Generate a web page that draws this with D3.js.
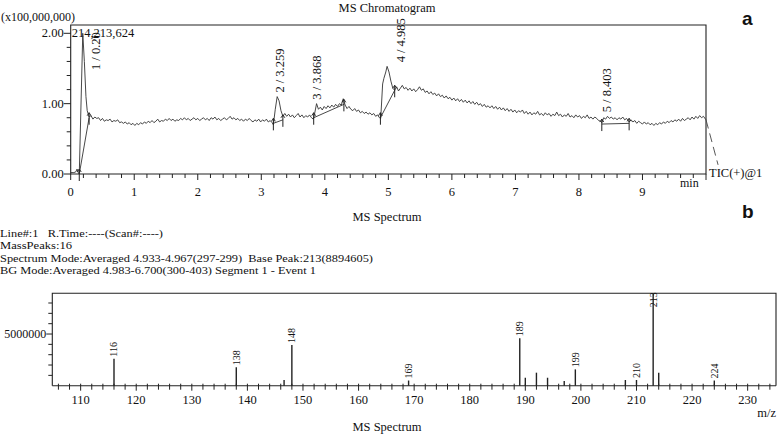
<!DOCTYPE html>
<html><head><meta charset="utf-8">
<script src="https://cdn.jsdelivr.net/npm/d3@7/dist/d3.min.js"></script>
<style>body{margin:0;background:#fff}svg{display:block}text{font-family:"Liberation Serif","Times New Roman",serif;fill:#111}</style>
</head><body>
<svg id="c" width="778" height="437"></svg>
<script>
// ---------- DATA ----------
// TIC chromatogram (time in min, intensity in x100,000,000)
const ticTrace = [
[0.00,0.02],[0.05,0.02],[0.08,0.03],[0.10,0.07],[0.12,0.02],[0.135,0.00],[0.19,2.00],[0.215,1.60],[0.24,1.10],[0.26,0.90],[0.29,0.81],
[0.32,0.83],[0.35,0.78],[0.38,0.81],[0.41,0.79],[0.44,0.80],[0.47,0.76],[0.50,0.79],[0.53,0.75],[0.56,0.77],[0.59,0.76],[0.62,0.78],[0.65,0.74],[0.68,0.76],[0.71,0.75],[0.74,0.77],[0.77,0.73],[0.80,0.74],[0.83,0.72],[0.86,0.74],[0.89,0.71],[0.92,0.73],[0.95,0.70],[0.98,0.72],[1.01,0.69],
[1.04,0.72],[1.07,0.70],[1.10,0.73],[1.13,0.71],[1.16,0.74],[1.19,0.72],[1.22,0.75],[1.25,0.73],[1.28,0.76],[1.31,0.73],[1.34,0.75],[1.37,0.78],[1.40,0.74],[1.43,0.76],[1.46,0.75],[1.49,0.78],[1.52,0.76],[1.55,0.79],[1.58,0.76],[1.61,0.78],[1.64,0.75],[1.67,0.77],[1.70,0.76],[1.73,0.79],[1.76,0.77],[1.79,0.80],[1.82,0.77],[1.85,0.79],[1.88,0.76],[1.91,0.78],[1.94,0.80],[1.97,0.77],[2.00,0.79],
[2.03,0.76],[2.06,0.78],[2.09,0.80],[2.12,0.77],[2.15,0.79],[2.18,0.76],[2.21,0.80],[2.24,0.78],[2.27,0.81],[2.30,0.77],[2.33,0.79],[2.36,0.76],[2.39,0.78],[2.42,0.80],[2.45,0.77],[2.48,0.79],[2.51,0.82],[2.54,0.78],[2.57,0.80],[2.60,0.77],[2.63,0.79],[2.66,0.76],[2.69,0.78],[2.72,0.75],[2.75,0.78],[2.78,0.76],[2.81,0.79],[2.84,0.76],[2.87,0.74],[2.90,0.77],[2.93,0.75],[2.96,0.78],[2.99,0.74],[3.02,0.77],[3.05,0.75],[3.08,0.78],[3.11,0.74],[3.14,0.76],[3.17,0.73],
[3.19,0.70],[3.22,0.92],[3.25,1.10],[3.28,1.04],[3.31,0.90],[3.34,0.82],
[3.37,0.86],[3.40,0.82],[3.43,0.85],[3.46,0.81],[3.49,0.84],[3.52,0.80],[3.55,0.83],[3.58,0.86],[3.61,0.81],[3.64,0.84],[3.67,0.80],[3.70,0.83],[3.73,0.81],[3.76,0.84],[3.79,0.80],[3.82,0.78],
[3.84,0.86],[3.87,1.00],[3.90,0.92],
[3.93,0.95],[3.96,0.91],[3.99,0.96],[4.02,0.93],[4.05,0.97],[4.08,0.94],[4.11,0.98],[4.14,0.95],[4.17,0.99],[4.20,0.96],[4.23,1.00],[4.26,0.98],[4.29,1.07],[4.32,0.98],
[4.35,0.93],[4.38,0.96],[4.41,0.92],[4.44,0.90],[4.47,0.93],[4.50,0.89],[4.53,0.91],[4.56,0.87],[4.59,0.89],[4.62,0.86],[4.65,0.88],[4.68,0.85],[4.71,0.87],[4.74,0.84],[4.77,0.86],[4.80,0.82],[4.83,0.84],[4.86,0.80],
[4.88,0.79],[4.91,1.28],[4.93,1.36],[4.96,1.45],[4.98,1.53],[5.01,1.45],[5.04,1.32],[5.07,1.22],[5.10,1.19],
[5.13,1.24],[5.16,1.18],[5.19,1.22],[5.22,1.26],[5.25,1.21],[5.28,1.23],[5.31,1.19],[5.34,1.22],[5.37,1.18],[5.40,1.21],[5.43,1.17],[5.46,1.20],[5.49,1.24],[5.52,1.19],[5.55,1.21],[5.58,1.16],
[5.61,1.18],[5.64,1.14],[5.67,1.17],[5.70,1.13],[5.73,1.15],[5.76,1.11],[5.79,1.14],[5.82,1.10],[5.85,1.12],[5.88,1.08],[5.91,1.11],[5.94,1.07],[5.97,1.09],[6.00,1.05],[6.03,1.08],[6.06,1.04],[6.09,1.07],[6.12,1.03],[6.15,1.06],[6.18,1.02],[6.21,1.05],[6.24,1.01],[6.27,1.04],[6.30,1.00],[6.33,1.03],[6.36,0.99],[6.39,1.02],[6.42,0.98],[6.45,1.00],[6.48,0.96],[6.51,0.99],[6.54,0.95],[6.57,0.97],[6.60,0.94],[6.63,0.97],[6.66,0.93],[6.69,0.96],[6.72,0.92],[6.75,0.95],[6.78,0.91],[6.81,0.94],[6.84,0.90],[6.87,0.93],[6.90,0.89],[6.93,0.92],[6.96,0.88],[6.99,0.91],[7.02,0.87],[7.05,0.90],[7.08,0.88],[7.11,0.91],[7.14,0.86],[7.17,0.89],[7.20,0.85],
[7.23,0.88],[7.26,0.84],[7.29,0.87],[7.32,0.85],[7.35,0.89],[7.38,0.84],[7.41,0.86],[7.44,0.83],[7.47,0.87],[7.50,0.84],[7.53,0.86],[7.56,0.82],[7.59,0.85],[7.62,0.83],[7.65,0.88],[7.68,0.83],[7.71,0.85],[7.74,0.81],[7.77,0.84],[7.80,0.82],[7.83,0.86],[7.86,0.81],[7.89,0.83],[7.92,0.80],[7.95,0.84],[7.98,0.81],[8.01,0.83],[8.04,0.79],[8.07,0.82],[8.10,0.80],[8.13,0.84],[8.16,0.79],[8.19,0.81],[8.22,0.78],[8.25,0.81],[8.28,0.79],[8.31,0.76],[8.34,0.75],
[8.36,0.73],[8.39,0.80],[8.42,0.78],[8.45,0.82],[8.48,0.79],[8.51,0.81],[8.54,0.78],[8.57,0.80],[8.60,0.77],[8.63,0.80],[8.66,0.78],[8.69,0.81],[8.72,0.77],[8.75,0.79],[8.79,0.74],
[8.82,0.77],[8.85,0.74],[8.88,0.76],[8.91,0.72],[8.94,0.75],[8.97,0.73],[9.00,0.71],[9.03,0.74],[9.06,0.71],[9.09,0.73],[9.12,0.70],[9.15,0.72],[9.18,0.69],[9.21,0.72],[9.24,0.70],[9.27,0.73],[9.30,0.71],
[9.33,0.74],[9.36,0.72],[9.39,0.75],[9.42,0.73],[9.45,0.76],[9.48,0.74],[9.51,0.77],[9.54,0.75],[9.57,0.78],[9.60,0.75],[9.63,0.79],[9.66,0.76],[9.69,0.78],[9.72,0.80],[9.75,0.77],[9.78,0.81],[9.81,0.78],[9.84,0.82],[9.87,0.79],[9.90,0.83],[9.93,0.80],[9.96,0.82],[10.0,0.77]
];
// detected peaks: number, retention time, apex intensity
const peakNo   = [1, 2, 3, 4, 5];
const peakRT   = [0.20, 3.259, 3.868, 4.985, 8.403];
const peakApex = [2.00, 1.10, 1.00, 1.53, 0.82];
// integration baselines [start time, start value, end time, end value]
const peakBase = [
  [0.135,0.00, 0.29,0.80],
  [3.19,0.72, 3.34,0.77],
  [3.825,0.80, 4.30,0.99],
  [4.875,0.80, 5.10,1.19],
  [8.36,0.71, 8.79,0.72]
];
const chromYTicks = [0, 1, 2];
const chromYLabels = ["0.00", "1.00", "2.00"];
const chromXTicks = [0,1,2,3,4,5,6,7,8,9];

// MS spectrum
const mz        = [116, 138, 146.6, 148, 169, 189, 190, 192, 194, 197, 199, 208, 210, 213, 214, 224];
const intensity = [2610000, 1780000, 550000, 3930000, 500000, 4580000, 770000, 1260000, 770000, 450000, 1580000, 550000, 550000, 8894605, 1260000, 500000];
const mzLabelled = [116, 138, 148, 169, 189, 199, 210, 213, 224];
const specXTicks = [110,120,130,140,150,160,170,180,190,200,210,220,230];
const specYTicks = [5000000];

const headerLines = [
  "Line#:1   R.Time:----(Scan#:----)",
  "MassPeaks:16",
  "Spectrum Mode:Averaged 4.933-4.967(297-299)  Base Peak:213(8894605)",
  "BG Mode:Averaged 4.983-6.700(300-403) Segment 1 - Event 1"
];

// ---------- DRAW ----------
const svg = d3.select("#c");
const ink = "#222";

// ===== Top: chromatogram =====
const T = {l:70.7, r:706, t:25, b:174};
const xT = d3.scaleLinear().domain([0,10]).range([T.l, T.r]);
const yT = d3.scaleLinear().domain([0,2]).range([T.b, 33.3]);

svg.append("text").attr("x",387).attr("y",12).attr("text-anchor","middle").attr("font-size",12.5).text("MS Chromatogram");
svg.append("text").attr("x",1).attr("y",21).attr("font-size",12).text("(x100,000,000)");
svg.append("text").attr("x",742).attr("y",25).style("font-family","'Liberation Sans',Arial,sans-serif").attr("font-weight","bold").attr("font-size",19).text("a");

// frame
svg.append("path").attr("d",`M${T.l},${T.b}V${T.t}H${T.r}V${T.b}Z`).attr("fill","none").attr("stroke",ink).attr("stroke-width",1.1);

// y ticks
const gTY = svg.append("g");
d3.range(0, 2.001, 0.2).forEach(v=>{
  const major = Math.abs(v-Math.round(v))<1e-6;
  gTY.append("line").attr("x1",T.l-(major?7:4)).attr("x2",T.l).attr("y1",yT(v)).attr("y2",yT(v)).attr("stroke",ink);
});
chromYTicks.forEach((v,i)=>{
  gTY.append("text").attr("x",T.l-7).attr("y",yT(v)+4).attr("text-anchor","end").attr("font-size",12.5).text(chromYLabels[i]);
});
// x ticks
const gTX = svg.append("g");
d3.range(0, 10.001, 0.2).forEach(v=>{
  const major = Math.abs(v-Math.round(v))<1e-6;
  gTX.append("line").attr("x1",xT(v)).attr("x2",xT(v)).attr("y1",T.b).attr("y2",T.b+(major?6:4)).attr("stroke",ink);
});
chromXTicks.forEach(v=>{
  gTX.append("text").attr("x",xT(v)).attr("y",196).attr("text-anchor","middle").attr("font-size",12.5).text(v);
});
svg.append("text").attr("x",680).attr("y",187).attr("font-size",12).text("min");

// trace
const line = d3.line().x(d=>xT(d[0])).y(d=>yT(d[1]));
svg.append("path").datum(ticTrace).attr("d",line).attr("fill","none").attr("stroke","#333").attr("stroke-width",0.9);

// integration baselines + markers
peakBase.forEach(b=>{
  svg.append("line").attr("x1",xT(b[0])).attr("y1",yT(b[1])).attr("x2",xT(b[2])).attr("y2",yT(b[3])).attr("stroke","#333").attr("stroke-width",0.9);
  [[b[0],b[1]],[b[2],b[3]]].forEach(p=>{
    const x=xT(p[0]), y=yT(p[1]);
    svg.append("line").attr("x1",x).attr("x2",x).attr("y1",y-5).attr("y2",y+7).attr("stroke","#222").attr("stroke-width",1);
    svg.append("path").attr("d",`M${x-2},${y-2}L${x},${y-5}L${x+2},${y-2}`).attr("fill","none").attr("stroke","#222").attr("stroke-width",0.9);
  });
});

// peak labels (rotated)
const labelDx = [17, 6, 5, 18, 6];
peakNo.forEach((n,i)=>{
  const x = xT(peakRT[i]) + labelDx[i];
  const y = i===0 ? 70 : yT(peakApex[i]) - 4;
  svg.append("text").attr("transform",`translate(${x},${y}) rotate(-90)`).attr("font-size",12.5)
    .text(`${n} / ${i===0 ? peakRT[i].toFixed(2) : peakRT[i].toFixed(3)}`);
});
svg.append("text").attr("x",xT(0)+1).attr("y",37).attr("font-size",12.5).text("214,213,624");

// TIC label leader
svg.append("line").attr("x1",xT(10)).attr("y1",yT(0.77)).attr("x2",xT(10.19)).attr("y2",yT(0.13))
  .attr("stroke","#444").attr("stroke-width",0.9).attr("stroke-dasharray","9,5");
svg.append("text").attr("x",709).attr("y",177).attr("font-size",12.5).text("TIC(+)@1");

// ===== Bottom: spectrum =====
svg.append("text").attr("x",387).attr("y",221).attr("text-anchor","middle").attr("font-size",12.5).text("MS Spectrum");
svg.append("text").attr("x",742).attr("y",218).style("font-family","'Liberation Sans',Arial,sans-serif").attr("font-weight","bold").attr("font-size",19).text("b");
const headerWidths = [163, 72, 373, 316];
headerLines.forEach((t,i)=>{
  svg.append("text").attr("x",0).attr("y",237+i*12.3).attr("font-size",11)
    .attr("textLength",headerWidths[i]).attr("lengthAdjust","spacingAndGlyphs")
    .attr("xml:space","preserve").style("white-space","pre").text(t);
});

const B = {l:52.3, r:776, t:293.3, b:385.7};
const xB = d3.scaleLinear().domain([104.9,235.1]).range([B.l,B.r]);
const yB = d3.scaleLinear().domain([0,8940000]).range([B.b,B.t]);

svg.append("path").attr("d",`M${B.l},${B.b}V${B.t}H${B.r}V${B.b}`).attr("fill","none").attr("stroke",ink).attr("stroke-width",1.1);
svg.append("line").attr("x1",B.l).attr("x2",B.r).attr("y1",B.b).attr("y2",B.b).attr("stroke",ink).attr("stroke-width",1.1);

d3.range(106, 235, 2).forEach(v=>{
  const major = v%10===0;
  svg.append("line").attr("x1",xB(v)).attr("x2",xB(v)).attr("y1",B.b-2).attr("y2",B.b+(major?5:4)).attr("stroke",ink);
});
specXTicks.forEach(v=>{
  svg.append("text").attr("x",xB(v)).attr("y",404).attr("text-anchor","middle").attr("font-size",12.5).text(v);
});
svg.append("text").attr("x",776).attr("y",417).attr("text-anchor","end").attr("font-size",12.5).text("m/z");
svg.append("text").attr("x",387).attr("y",431).attr("text-anchor","middle").attr("font-size",12.5).text("MS Spectrum");

d3.range(1000000, 8000001, 1000000).forEach(v=>{
  const major = specYTicks.includes(v);
  svg.append("line").attr("x1",B.l-(major?6:4)).attr("x2",B.l).attr("y1",yB(v)).attr("y2",yB(v)).attr("stroke",ink);
});
specYTicks.forEach(v=>{
  svg.append("text").attr("x",B.l-6).attr("y",yB(v)+4).attr("text-anchor","end").attr("font-size",12).text(v);
});

// sticks
mz.forEach((m,i)=>{
  svg.append("line").attr("x1",xB(m)).attr("x2",xB(m)).attr("y1",B.b).attr("y2",yB(intensity[i])).attr("stroke","#222").attr("stroke-width",1.4);
});
// stick labels
mz.forEach((m,i)=>{
  if(!mzLabelled.includes(m)) return;
  const top = yB(intensity[i]);
  const y = top - 2 < B.t + 14 ? B.t + 14 : top - 2;
  svg.append("text").attr("transform",`translate(${xB(m)+3.5},${y}) rotate(-90)`).attr("font-size",10).text(m);
});
</script>
</body></html>
